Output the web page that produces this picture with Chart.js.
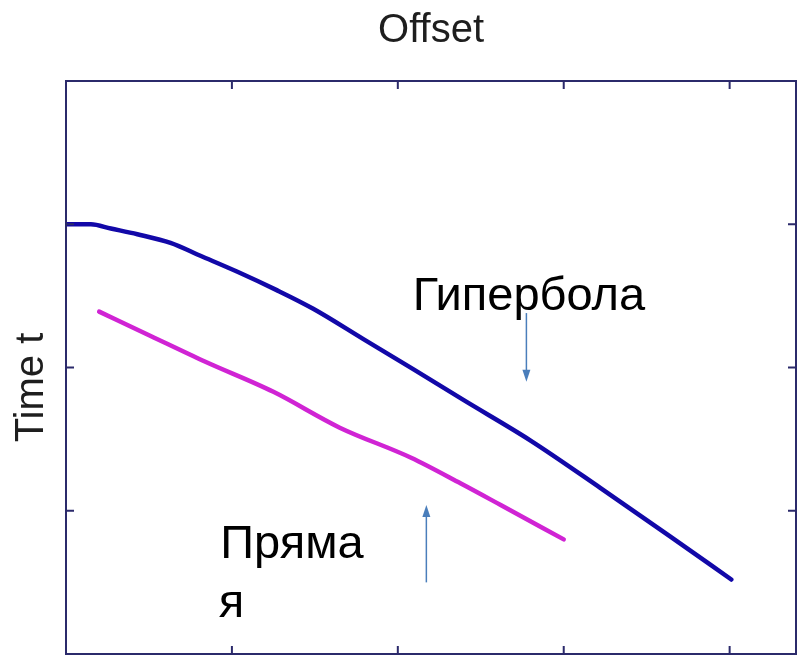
<!DOCTYPE html>
<html>
<head>
<meta charset="utf-8">
<script src="https://cdn.jsdelivr.net/npm/chart.js@4/dist/chart.umd.min.js"></script>
<style>
  html, body { margin: 0; padding: 0; background: #ffffff; }
  #wrap { width: 797px; height: 657px; }
</style>
</head>
<body>
<div id="wrap"><canvas id="c" width="797" height="657"></canvas></div>
<script>
// Reflected-wave traveltime: hyperbola vs. straight line (offset vs. time)
const hyperbolaOffset = [0.00, 0.15, 0.27, 0.43, 0.63, 0.81, 1.03, 1.27, 1.49, 1.79, 2.09, 2.40, 2.80, 3.22, 3.63, 4.01];
const hyperbolaTime   = [1.00, 1.00, 1.03, 1.07, 1.13, 1.22, 1.33, 1.46, 1.59, 1.80, 2.01, 2.23, 2.51, 2.84, 3.17, 3.48];

const lineOffset = [0.20, 0.51, 0.84, 1.25, 1.65, 2.08, 2.38, 2.62, 3.00];
const lineTime   = [1.61, 1.78, 1.96, 2.17, 2.42, 2.63, 2.81, 2.96, 3.20];

const offsetTicks = [1, 2, 3, 4];
const timeTicks = [1, 2, 3];

const titleText = 'Offset';
const yTitleText = 'Time t';
const hyperbolaLabel = 'Гипербола';
const lineLabel = ['Пряма', 'я'];

const toPoints = (xs, ys) => xs.map((x, i) => ({ x: x, y: ys[i] }));

const frameColor = '#2b2a6b';
const arrowColor = '#4a7ebb';
const textFont = '"Liberation Sans", Arial, sans-serif';

// Box frame with inward ticks on all four sides
const framePlugin = {
  id: 'frame',
  afterDatasetsDraw(chart) {
    const { ctx, chartArea: a, scales } = chart;
    const tl = 8;
    ctx.save();
    ctx.strokeStyle = frameColor;
    ctx.lineWidth = 2;
    ctx.strokeRect(a.left, a.top, a.right - a.left, a.bottom - a.top);
    ctx.beginPath();
    offsetTicks.forEach(v => {
      const px = scales.x.getPixelForValue(v);
      ctx.moveTo(px, a.top); ctx.lineTo(px, a.top + tl);
      ctx.moveTo(px, a.bottom); ctx.lineTo(px, a.bottom - tl);
    });
    timeTicks.forEach(v => {
      const py = scales.y.getPixelForValue(v);
      ctx.moveTo(a.left, py); ctx.lineTo(a.left + tl, py);
      ctx.moveTo(a.right, py); ctx.lineTo(a.right - tl, py);
    });
    ctx.stroke();
    ctx.restore();
  }
};

// Curve labels with pointer arrows, plus the rotated time-axis title
const labelPlugin = {
  id: 'labels',
  afterDraw(chart) {
    const { ctx, scales } = chart;
    const X = v => scales.x.getPixelForValue(v);
    const Y = v => scales.y.getPixelForValue(v);

    ctx.save();
    ctx.fillStyle = '#000000';
    ctx.font = '47px ' + textFont;
    ctx.textBaseline = 'alphabetic';
    ctx.textAlign = 'left';
    ctx.fillText(hyperbolaLabel, X(2.09), Y(1.60));
    ctx.fillText(lineLabel[0], X(0.93), Y(3.33));
    ctx.fillText(lineLabel[1], X(0.92), Y(3.74));

    const arrow = (x, y0, y1) => {
      const px = X(x), p0 = Y(y0), p1 = Y(y1);
      const dir = Math.sign(p1 - p0);
      ctx.strokeStyle = arrowColor;
      ctx.fillStyle = arrowColor;
      ctx.lineWidth = 1.5;
      ctx.beginPath();
      ctx.moveTo(px, p0);
      ctx.lineTo(px, p1 - dir * 10);
      ctx.stroke();
      ctx.beginPath();
      ctx.moveTo(px, p1);
      ctx.lineTo(px - 4, p1 - dir * 12);
      ctx.lineTo(px + 4, p1 - dir * 12);
      ctx.closePath();
      ctx.fill();
    };
    arrow(2.775, 1.62, 2.10);
    arrow(2.172, 3.50, 2.96);

    ctx.fillStyle = '#1e1e1e';
    ctx.font = '40px ' + textFont;
    ctx.textAlign = 'center';
    ctx.textBaseline = 'alphabetic';
    ctx.translate(43, Y(2.14));
    ctx.rotate(-Math.PI / 2);
    ctx.fillText(yTitleText, 0, 0);
    ctx.restore();
  }
};

new Chart(document.getElementById('c'), {
  type: 'line',
  data: {
    datasets: [
      {
        label: 'hyperbola',
        data: toPoints(hyperbolaOffset, hyperbolaTime),
        borderColor: '#1208a8',
        borderWidth: 4.5,
        pointRadius: 0,
        cubicInterpolationMode: 'monotone',
        borderCapStyle: 'round',
        borderJoinStyle: 'round',
        fill: false
      },
      {
        label: 'line',
        data: toPoints(lineOffset, lineTime),
        borderColor: '#d024d4',
        borderWidth: 4.5,
        pointRadius: 0,
        cubicInterpolationMode: 'monotone',
        borderCapStyle: 'round',
        borderJoinStyle: 'round',
        fill: false
      }
    ]
  },
  options: {
    responsive: false,
    animation: false,
    layout: { padding: { left: 66, right: 1, top: 0, bottom: 3 } },
    scales: {
      x: { type: 'linear', min: 0, max: 4.4, display: false },
      y: { type: 'linear', min: 0, max: 4, reverse: true, display: false }
    },
    plugins: {
      legend: { display: false },
      tooltip: { enabled: false },
      title: {
        display: true,
        text: titleText,
        color: '#1e1e1e',
        font: { family: textFont, size: 40, weight: 'normal' },
        padding: { top: 7, bottom: 26 }
      }
    }
  },
  plugins: [framePlugin, labelPlugin]
});
</script>
</body>
</html>
